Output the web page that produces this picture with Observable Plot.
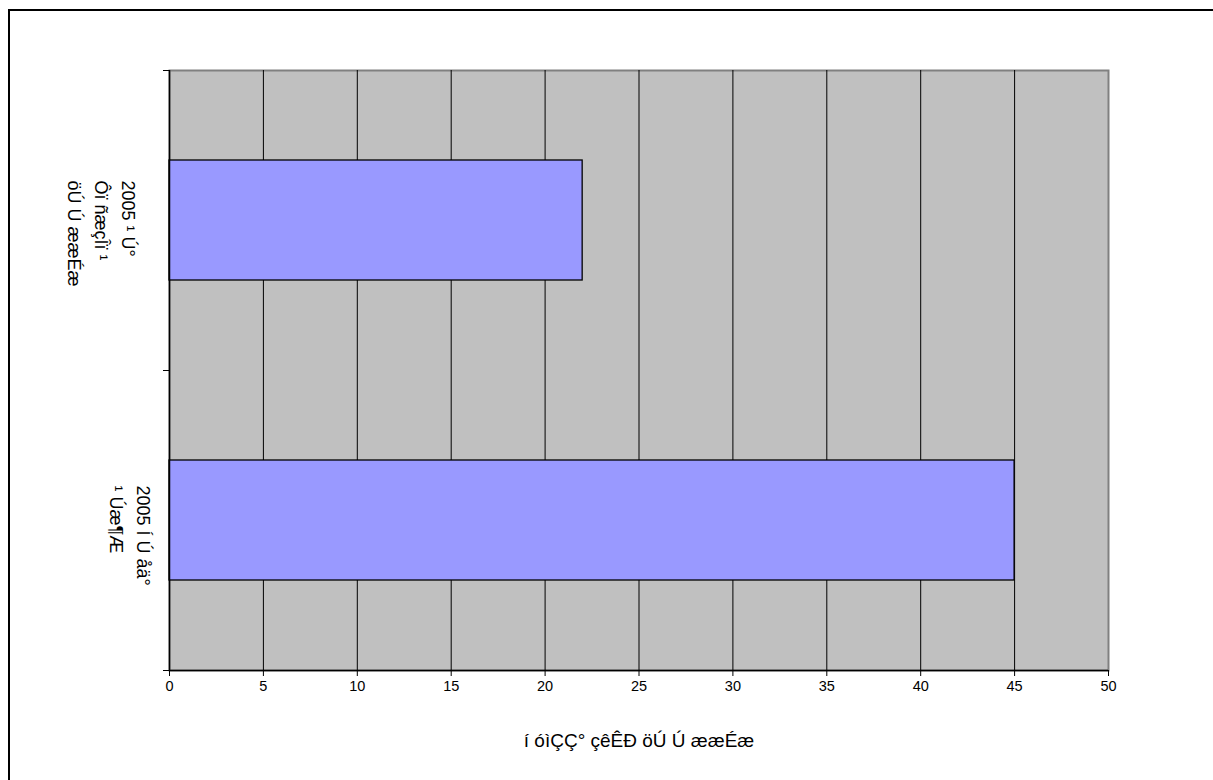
<!DOCTYPE html>
<html>
<head>
<meta charset="utf-8">
<script src="https://cdn.jsdelivr.net/npm/d3@7"></script>
<script src="https://cdn.jsdelivr.net/npm/@observablehq/plot@0.6"></script>
<style>
  html, body { margin: 0; padding: 0; background: #fff; overflow: hidden; }
  #wrap { position: relative; width: 1213px; height: 780px; }
  #border { position: absolute; left: 8px; top: 9px; width: 1400px; height: 1000px; border: 2px solid #000; pointer-events: none; }
  svg { display: block; }
</style>
</head>
<body>
<div id="wrap"><div id="border"></div></div>
<script>
const categories = ["2005 ¹ Ú°\nÔï ñæçÎï ¹\nöÚ Ú ææÉæ", "2005 Í Ú åä°\n¹ Úæ¶Æ"];
const values = [22, 45];
const xTicks = [0, 5, 10, 15, 20, 25, 30, 35, 40, 45, 50];
const gridValues = [5, 10, 15, 20, 25, 30, 35, 40, 45];
const axisTitle = "í óìÇÇ° çêÊÐ öÚ Ú ææÉæ";

const bars = categories.map((c, i) => ({cat: c, value: values[i], i}));

const font = "'Liberation Sans', Arial, sans-serif";

const chart = Plot.plot({
  width: 1213,
  height: 780,
  marginLeft: 169,
  marginRight: 105,
  marginTop: 70,
  marginBottom: 110,
  style: {fontFamily: font, background: "transparent", overflow: "visible"},
  x: {domain: [0, 50], label: null},
  y: {domain: [0, categories.length], reverse: true, label: null},
  marks: [
    Plot.frame({fill: "#C0C0C0", stroke: "#808080", strokeWidth: 2}),
    Plot.ruleX(gridValues, {stroke: "#000", strokeWidth: 1}),
    Plot.rectX(bars, {
      x1: 0, x2: "value",
      y1: d => d.i + 0.3, y2: d => d.i + 0.7,
      fill: "#9999FF", stroke: "#000", strokeWidth: 1.3
    }),
    Plot.ruleX([0], {stroke: "#000", strokeWidth: 1.5}),
    Plot.ruleY([categories.length], {stroke: "#000", strokeWidth: 1.5}),
    Plot.axisY({ticks: [0, 1, 2], tickFormat: () => "", tickSize: 6, stroke: "#000"}),
    Plot.axisX({ticks: xTicks, tickSize: 6, tickPadding: 4, fontSize: 14.5, label: null, fill: "#000", stroke: "#000"}),
    Plot.text(bars.filter(d => d.i === 0), {
      x: 0, y: d => d.i + 0.5, text: "cat",
      rotate: 90, textAnchor: "start", lineAnchor: "top", lineHeight: 1.5,
      dx: -28, dy: -40, fontSize: 18, fill: "#000"
    }),
    Plot.text(bars.filter(d => d.i === 1), {
      x: 0, y: d => d.i + 0.5, text: "cat",
      rotate: 90, textAnchor: "start", lineAnchor: "top", lineHeight: 1.5,
      dx: -13, dy: -35, fontSize: 18, fill: "#000"
    }),
    Plot.text([axisTitle], {
      frameAnchor: "bottom", text: d => d, dy: 76, fontSize: 19, fill: "#000"
    })
  ]
});
document.getElementById("wrap").prepend(chart);
</script>
</body>
</html>
